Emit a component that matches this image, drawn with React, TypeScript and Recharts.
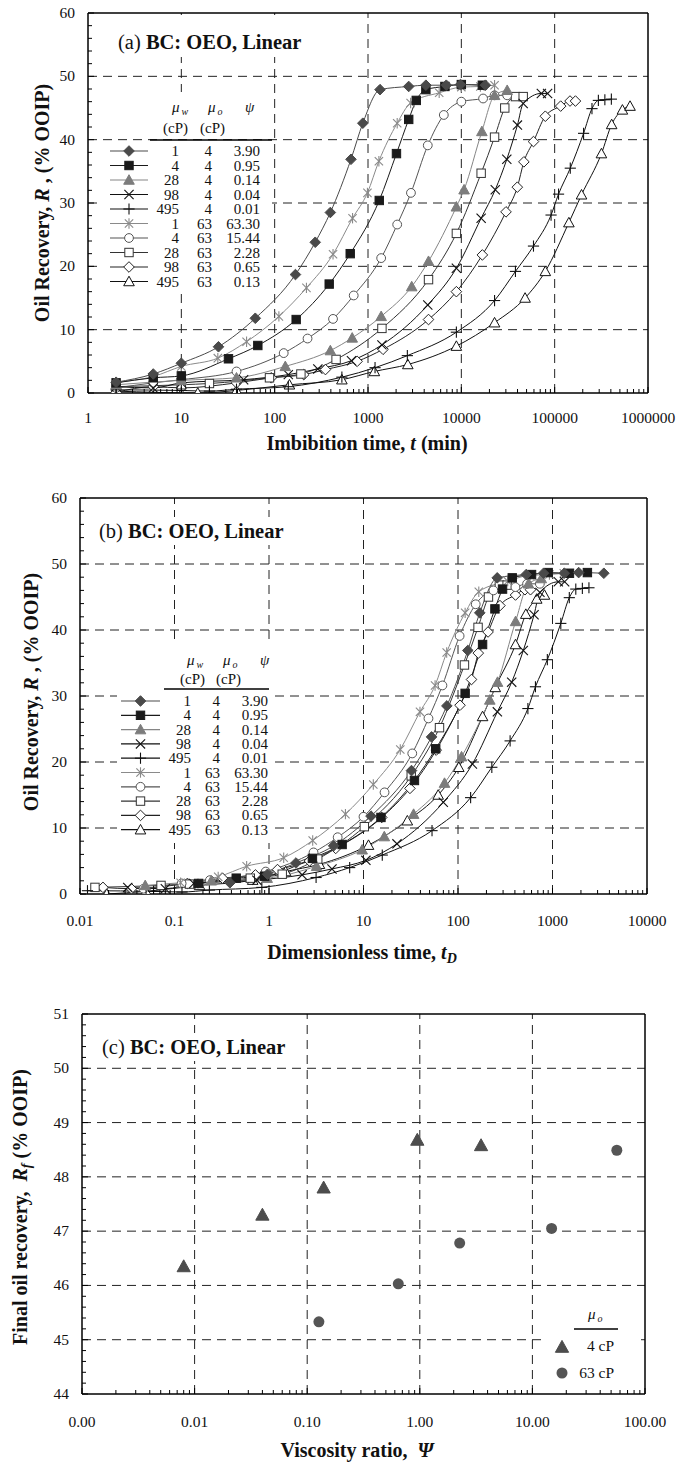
import React from 'react';
import { LineChart, Line, XAxis, YAxis, ReferenceLine, ScatterChart, Scatter } from 'recharts';

const FONT = '"Liberation Serif", "Times New Roman", Times, serif';

// ---------------- Panel (a): imbibition time t (min) ----------------
const tA1 = [2, 5, 10, 25, 62, 167, 272, 395, 657, 880, 1345, 2730, 4170, 6900, 9800, 18100];
const rA1 = [1.7, 3.0, 4.7, 7.3, 11.8, 18.7, 23.8, 28.5, 36.9, 42.6, 47.9, 48.4, 48.6, 48.6, 48.7, 48.6];
const tA2 = [2, 5, 10, 32, 66, 170, 384, 645, 1320, 2018, 2730, 3290, 4170, 6670, 10000, 16800];
const rA2 = [1.6, 2.4, 2.7, 5.4, 7.5, 11.6, 17.2, 22.0, 30.4, 37.8, 43.2, 46.2, 47.9, 48.4, 48.7, 48.6];
const tA3 = [2, 10, 39, 130, 395, 677, 1384, 2940, 4450, 8850, 10700, 16600, 22700, 31000];
const rA3 = [1.3, 2.0, 2.4, 4.2, 6.7, 8.7, 12.1, 16.8, 20.8, 29.4, 32.1, 41.3, 47.0, 47.8];
const tA4 = [2, 5, 10, 46.5, 140, 290, 665, 1410, 4370, 8850, 16300, 23100, 30700, 39900, 46000, 72000, 84000];
const rA4 = [1.0, 0.8, 1.6, 2.1, 2.9, 3.8, 5.1, 7.6, 13.9, 19.7, 27.6, 32.1, 36.9, 42.3, 45.7, 47.3, 47.3];
const tA5 = [2, 10, 20, 39, 140, 525, 1190, 2640, 8850, 22700, 38000, 59300, 91500, 110000, 147000, 204000, 251000, 294000, 345000, 405000];
const rA5 = [0.5, 0.4, 0.3, 0.6, 1.0, 2.5, 4.0, 5.9, 9.6, 14.6, 19.2, 23.2, 28.1, 31.4, 35.5, 41.0, 44.9, 46.2, 46.3, 46.4];
const tA6 = [2, 5, 10, 24.6, 50, 111, 219, 422, 683, 986, 1308, 2055, 2860, 5790, 10000, 16000, 22700];
const rA6 = [1.7, 2.6, 4.2, 5.5, 8.1, 12.1, 16.6, 21.9, 27.6, 31.6, 36.6, 42.6, 45.8, 47.4, 48.3, 48.4, 48.6];
const tA7 = [2, 5, 10, 39, 125, 225, 422, 703, 1384, 2055, 2885, 4370, 6490, 10000, 17100, 22700, 31000];
const rA7 = [0.8, 1.6, 2.1, 3.4, 6.3, 8.6, 11.7, 15.4, 21.3, 26.6, 31.6, 39.1, 43.9, 46.0, 46.5, 47.0, 47.0];
const tA8 = [2, 10, 20, 88, 191, 455, 1410, 4450, 8850, 16300, 22700, 29200, 38000, 46000];
const rA8 = [1.0, 1.3, 1.5, 2.4, 3.0, 5.3, 10.2, 17.9, 25.2, 34.7, 40.4, 45.0, 46.8, 46.8];
const tA9 = [2, 5, 10, 39, 92, 205, 350, 765, 1450, 4450, 8850, 16800, 30100, 39800, 46800, 59300, 79400, 116000, 146000, 167000];
const rA9 = [0.1, 1.0, 0.8, 1.6, 2.4, 2.9, 3.7, 5.0, 6.9, 11.6, 16.0, 21.8, 28.6, 32.5, 36.5, 39.7, 43.7, 45.3, 46.1, 46.1];
const tA10 = [2, 15, 39, 144, 525, 1170, 2670, 8850, 22700, 48200, 79400, 142000, 194000, 317000, 408000, 532000, 642000];
const rA10 = [0.3, 0.0, 0.4, 1.3, 2.1, 3.4, 4.5, 7.4, 11.1, 15.0, 19.2, 26.9, 31.3, 37.8, 42.4, 44.7, 45.3];

// ---------------- Panel (b): dimensionless time tD ----------------
const tdB1 = [0.386, 0.965, 1.93, 4.83, 12.0, 32.2, 52.5, 76.2, 127, 170, 260, 527, 805, 1332, 1891, 3493];
const rB1 = [1.7, 3.0, 4.7, 7.3, 11.8, 18.7, 23.8, 28.5, 36.9, 42.6, 47.9, 48.4, 48.6, 48.6, 48.7, 48.6];
const tdB2 = [0.18, 0.45, 0.9, 2.88, 5.94, 15.3, 34.6, 58.1, 119, 182, 246, 296, 375, 600, 900, 1512, 2340];
const rB2 = [1.6, 2.4, 2.7, 5.4, 7.5, 11.6, 17.2, 22.0, 30.4, 37.8, 43.2, 46.2, 47.9, 48.4, 48.7, 48.6, 48.7];
const tdB3 = [0.049, 0.245, 0.956, 3.19, 9.68, 16.6, 33.9, 72.0, 109, 217, 262, 407, 556, 760];
const rB3 = [1.3, 2.0, 2.4, 4.2, 6.7, 8.7, 12.1, 16.8, 20.8, 29.4, 32.1, 41.3, 47.0, 47.8];
const tdB4 = [0.032, 0.08, 0.16, 0.744, 2.24, 4.64, 10.6, 22.6, 69.9, 142, 261, 370, 491, 638, 736, 1152, 1344];
const rB4 = [1.0, 0.8, 1.6, 2.1, 2.9, 3.8, 5.1, 7.6, 13.9, 19.7, 27.6, 32.1, 36.9, 42.3, 45.7, 47.3, 47.3];
const tdB5 = [0.012, 0.06, 0.12, 0.234, 0.84, 3.15, 7.14, 15.8, 53.1, 136, 228, 356, 549, 660, 882, 1224, 1506, 1764, 2070, 2430];
const rB5 = [0.5, 0.4, 0.3, 0.6, 1.0, 2.5, 4.0, 5.9, 9.6, 14.6, 19.2, 23.2, 28.1, 31.4, 35.5, 41.0, 44.9, 46.2, 46.3, 46.4];
const tdB6 = [0.116, 0.29, 0.58, 1.43, 2.9, 6.44, 12.7, 24.5, 39.6, 57.2, 75.9, 119, 166, 336, 580, 928, 1317];
const rB6 = [1.7, 2.6, 4.2, 5.5, 8.1, 12.1, 16.6, 21.9, 27.6, 31.6, 36.6, 42.6, 45.8, 47.4, 48.3, 48.4, 48.6];
const tdB7 = [0.047, 0.119, 0.237, 0.924, 2.96, 5.33, 10.0, 16.7, 32.8, 48.7, 68.4, 104, 154, 237, 405, 538, 735];
const rB7 = [0.8, 1.6, 2.1, 3.4, 6.3, 8.6, 11.7, 15.4, 21.3, 26.6, 31.6, 39.1, 43.9, 46.0, 46.5, 47.0, 47.0];
const tdB8 = [0.0144, 0.072, 0.144, 0.634, 1.38, 3.28, 10.2, 32.0, 63.7, 117, 163, 210, 274, 331];
const rB8 = [1.0, 1.3, 1.5, 2.4, 3.0, 5.3, 10.2, 17.9, 25.2, 34.7, 40.4, 45.0, 46.8, 46.8];
const tdB9 = [0.0175, 0.035, 0.137, 0.322, 0.718, 1.23, 2.68, 5.08, 15.6, 31.0, 58.8, 105, 139, 164, 208, 278, 406, 511, 585];
const rB9 = [1.0, 0.8, 1.6, 2.4, 2.9, 3.7, 5.0, 6.9, 11.6, 16.0, 21.8, 28.6, 32.5, 36.5, 39.7, 43.7, 45.3, 46.1, 46.1];
const tdB10 = [0.0192, 0.05, 0.184, 0.672, 1.5, 3.42, 11.3, 29.1, 61.7, 102, 182, 248, 406, 522, 681, 822];
const rB10 = [0.0, 0.4, 1.3, 2.1, 3.4, 4.5, 7.4, 11.1, 15.0, 19.2, 26.9, 31.3, 37.8, 42.4, 44.7, 45.3];

// ---------------- Panel (c): final recovery vs viscosity ratio ----------------
const psi4 = [0.008, 0.04, 0.14, 0.95, 3.5];
const rf4 = [46.35, 47.3, 47.8, 48.68, 48.58];
const psi63 = [0.127, 0.644, 2.26, 14.8, 56.2];
const rf63 = [45.33, 46.03, 46.78, 47.05, 48.49];

// ---------------- legend table ----------------
const muW = [1, 4, 28, 98, 495, 1, 4, 28, 98, 495];
const muO = [4, 4, 4, 4, 4, 63, 63, 63, 63, 63];
const psiLabels = ['3.90', '0.95', '0.14', '0.04', '0.01', '63.30', '15.44', '2.28', '0.65', '0.13'];

// ---------------- axis ticks ----------------
const xMajorsA = [1, 10, 100, 1000, 10000, 100000, 1000000];
const xMajorsB = [0.01, 0.1, 1, 10, 100, 1000, 10000];
const xMajorsC = [0.001, 0.01, 0.1, 1, 10, 100];
const yMajorsAB = [0, 10, 20, 30, 40, 50, 60];
const yMajorsC = [44, 45, 46, 47, 48, 49, 50, 51];

const logTicks = (majors: number[]) => {
  const out: number[] = [];
  for (let i = 0; i < majors.length; i++) {
    out.push(majors[i]);
    if (i < majors.length - 1) for (let k = 2; k <= 9; k++) out.push(+(majors[i] * k).toPrecision(6));
  }
  return out;
};
const linTicks = (majors: number[], sub: number) => {
  const out: number[] = [];
  for (let i = 0; i < majors.length; i++) {
    out.push(majors[i]);
    if (i < majors.length - 1) {
      const step = (majors[i + 1] - majors[i]) / sub;
      for (let k = 1; k < sub; k++) out.push(Math.round((majors[i] + k * step) * 1000) / 1000);
    }
  }
  return out;
};

type Style = { shape: string; filled: boolean; color: string; line: string };
const styles: Style[] = [
  { shape: 'diamond', filled: true, color: '#4a4a4a', line: '#4a4a4a' },
  { shape: 'square', filled: true, color: '#1a1a1a', line: '#1a1a1a' },
  { shape: 'triangle', filled: true, color: '#7c7c7c', line: '#858585' },
  { shape: 'x', filled: false, color: '#111', line: '#111' },
  { shape: 'plus', filled: false, color: '#111', line: '#111' },
  { shape: 'asterisk', filled: false, color: '#8a8a8a', line: '#8a8a8a' },
  { shape: 'circle', filled: false, color: '#555', line: '#555' },
  { shape: 'square', filled: false, color: '#333', line: '#333' },
  { shape: 'diamond', filled: false, color: '#222', line: '#222' },
  { shape: 'triangle', filled: false, color: '#111', line: '#111' },
];

function Marker({ shape, cx, cy, color, filled, s = 1 }: any) {
  if (cx == null || cy == null || isNaN(cx) || isNaN(cy)) return null;
  const fill = filled ? color : '#fff';
  const sw = 1;
  switch (shape) {
    case 'diamond': {
      const r = 5.3 * s;
      return <polygon points={`${cx},${cy - r} ${cx + r},${cy} ${cx},${cy + r} ${cx - r},${cy}`} fill={fill} stroke={color} strokeWidth={sw} />;
    }
    case 'square': {
      const h = 4.2 * s;
      return <rect x={cx - h} y={cy - h} width={2 * h} height={2 * h} fill={fill} stroke={color} strokeWidth={sw} />;
    }
    case 'triangle': {
      const r = 5.3 * s;
      return <polygon points={`${cx},${cy - r} ${cx + r},${cy + r * 0.8} ${cx - r},${cy + r * 0.8}`} fill={fill} stroke={color} strokeWidth={sw} />;
    }
    case 'x': {
      const r = 4.6 * s;
      return (
        <g stroke={color} strokeWidth={1.1}>
          <line x1={cx - r} y1={cy - r} x2={cx + r} y2={cy + r} />
          <line x1={cx - r} y1={cy + r} x2={cx + r} y2={cy - r} />
        </g>
      );
    }
    case 'plus': {
      const r = 5.6 * s;
      return (
        <g stroke={color} strokeWidth={1.1}>
          <line x1={cx - r} y1={cy} x2={cx + r} y2={cy} />
          <line x1={cx} y1={cy - r} x2={cx} y2={cy + r} />
        </g>
      );
    }
    case 'asterisk': {
      const r = 5.2 * s;
      const d = r * 0.8;
      return (
        <g stroke={color} strokeWidth={1.1}>
          <line x1={cx} y1={cy - r} x2={cx} y2={cy + r} />
          <line x1={cx - d} y1={cy - d} x2={cx + d} y2={cy + d} />
          <line x1={cx - d} y1={cy + d} x2={cx + d} y2={cy - d} />
        </g>
      );
    }
    case 'circle':
    default:
      return <circle cx={cx} cy={cy} r={4.4 * s} fill={fill} stroke={color} strokeWidth={sw} />;
  }
}

const isDecade = (v: number) => {
  const l = Math.log10(v);
  return Math.abs(l - Math.round(l)) < 1e-6;
};

const TICK_FS = 15.5;

function makeLogXTick(fmt: (v: number) => string, labelOffset: number) {
  return (props: any) => {
    const { x, y, payload } = props;
    const v = Number(payload.value);
    const major = isDecade(v);
    return (
      <g>
        <line x1={x} x2={x} y1={y} y2={y - (major ? 6 : 4)} stroke="#000" strokeWidth={1} />
        {major ? (
          <text x={x} y={y + labelOffset} textAnchor="middle" fontSize={TICK_FS} fontFamily={FONT} fill="#111">
            {fmt(v)}
          </text>
        ) : null}
      </g>
    );
  };
}
function makeYTick(isMajor: (v: number) => boolean, gap: number) {
  return (props: any) => {
    const { x, y, payload } = props;
    const v = Number(payload.value);
    const major = isMajor(v);
    return (
      <g>
        <line x1={x} x2={x + (major ? 6 : 4)} y1={y} y2={y} stroke="#000" strokeWidth={1} />
        {major ? (
          <text x={x - gap} y={y + 5} textAnchor="end" fontSize={TICK_FS} fontFamily={FONT} fill="#111">
            {String(Math.round(v))}
          </text>
        ) : null}
      </g>
    );
  };
}

const rows = (xs: number[], ys: number[]) => xs.map((x, i) => ({ x, R: ys[i] }));
const seriesA = [rows(tA1, rA1), rows(tA2, rA2), rows(tA3, rA3), rows(tA4, rA4), rows(tA5, rA5), rows(tA6, rA6), rows(tA7, rA7), rows(tA8, rA8), rows(tA9, rA9), rows(tA10, rA10)];
const seriesB = [rows(tdB1, rB1), rows(tdB2, rB2), rows(tdB3, rB3), rows(tdB4, rB4), rows(tdB5, rB5), rows(tdB6, rB6), rows(tdB7, rB7), rows(tdB8, rB8), rows(tdB9, rB9), rows(tdB10, rB10)];
const rowsC4 = psi4.map((x, i) => ({ x, y: rf4[i] }));
const rowsC63 = psi63.map((x, i) => ({ x, y: rf63[i] }));

const GRID = { stroke: '#222', strokeWidth: 1, strokeDasharray: '9 6' };
const FRAME = { stroke: '#000', strokeWidth: 1.5 };

function renderLines(series: any[], prefix: string) {
  const order = [9, 8, 7, 6, 5, 4, 3, 2, 1, 0];
  return order.map((i) => (
    <Line
      key={prefix + i}
      data={series[i]}
      dataKey="R"
      type="monotone"
      stroke={styles[i].line}
      strokeWidth={1}
      isAnimationActive={false}
      activeDot={false}
      legendType="none"
      dot={(p: any) => <Marker key={`${prefix}${i}-${p.index}`} cx={p.cx} cy={p.cy} shape={styles[i].shape} color={styles[i].color} filled={styles[i].filled} />}
    />
  ));
}

function CurvePanel({ series, prefix, majorsX, domainX, fmtX, yAxisWidth, marginTop, marginRight, height, xAxisHeight, labelOffset }: any) {
  const xTicks = logTicks(majorsX);
  const yTicks = linTicks(yMajorsAB, 5);
  const innerX = majorsX.slice(1, -1);
  return (
    <LineChart width={678} height={height} margin={{ top: marginTop, right: marginRight, left: 0, bottom: 0 }}>
      <XAxis
        dataKey="x"
        type="number"
        scale="log"
        domain={domainX}
        allowDataOverflow
        ticks={xTicks}
        interval={0}
        height={xAxisHeight}
        axisLine={FRAME}
        tickLine={false}
        tickSize={0}
        tickMargin={0}
        tick={makeLogXTick(fmtX, labelOffset)}
      />
      <YAxis
        type="number"
        domain={[0, 60]}
        allowDataOverflow
        ticks={yTicks}
        interval={0}
        width={yAxisWidth}
        axisLine={FRAME}
        tickLine={false}
        tickSize={0}
        tickMargin={0}
        tick={makeYTick((v) => v % 10 === 0, 13)}
      />
      {innerX.map((v: number) => (
        <ReferenceLine key={'gx' + v} x={v} {...GRID} />
      ))}
      {[10, 20, 30, 40, 50].map((v) => (
        <ReferenceLine key={'gy' + v} y={v} {...GRID} />
      ))}
      <ReferenceLine y={60} {...FRAME} />
      <ReferenceLine x={domainX[1]} {...FRAME} />
      {renderLines(series, prefix)}
    </LineChart>
  );
}

function LegendTable({ rowY0, dy, symX1, symX2, colW, colO, colP, hdr, bgs }: any) {
  return (
    <g fontFamily={FONT} fontSize={15} fill="#111">
      {bgs.map((b: number[], i: number) => (
        <rect key={'bg' + i} x={b[0]} y={b[1]} width={b[2]} height={b[3]} fill="#fff" />
      ))}
      <text x={hdr.wX} y={hdr.muY} fontStyle="italic">
        μ<tspan fontSize={10} dx={2} dy={3}>w</tspan>
      </text>
      <text x={hdr.oX} y={hdr.muY} fontStyle="italic">
        μ<tspan fontSize={10} dx={2} dy={3}>o</tspan>
      </text>
      <text x={hdr.pX} y={hdr.muY} fontStyle="italic">ψ</text>
      <text x={hdr.cp1} y={hdr.cpY}>(cP)</text>
      <text x={hdr.cp2} y={hdr.cpY}>(cP)</text>
      <line x1={hdr.lx1} x2={hdr.lx2} y1={hdr.ly} y2={hdr.ly} stroke="#000" strokeWidth={1.3} />
      {muW.map((w, i) => {
        const y = rowY0 + i * dy;
        const st = styles[i];
        return (
          <g key={'row' + i}>
            <line x1={symX1} x2={symX2} y1={y} y2={y} stroke={st.line} strokeWidth={1.2} />
            <Marker cx={(symX1 + symX2) / 2} cy={y} shape={st.shape} color={st.color} filled={st.filled} />
            <text x={colW} y={y + 5} textAnchor="end">{w}</text>
            <text x={colO} y={y + 5} textAnchor="end">{muO[i]}</text>
            <text x={colP} y={y + 5} textAnchor="end">{psiLabels[i]}</text>
          </g>
        );
      })}
    </g>
  );
}

const TITLE_FS = 20;
const PANEL_FS = 20.5;

function Overlay() {
  return (
    <svg width={678} height={1479} style={{ position: 'absolute', left: 0, top: 0, zIndex: 5, pointerEvents: 'none' }}>
      {/* Panel (a) */}
      <rect x={95} y={15} width={214} height={42} fill="#fff" />
      <text x={118} y={49} fontFamily={FONT} fontSize={PANEL_FS} fill="#111">
        (a) <tspan fontWeight="bold">BC: OEO, Linear</tspan>
      </text>
      <LegendTable
        rowY0={151}
        dy={14.5}
        symX1={110}
        symX2={148}
        colW={179}
        colO={212}
        colP={260}
        hdr={{ wX: 172, oX: 208, pX: 245, muY: 112, cp1: 163, cp2: 200, cpY: 133, lx1: 150, lx2: 272, ly: 140 }}
        bgs={[[150, 92, 122, 47], [100, 141, 172, 151]]}
      />
      <text x={367} y={450} textAnchor="middle" fontFamily={FONT} fontSize={TITLE_FS} fontWeight="bold" fill="#111">
        Imbibition time, <tspan fontStyle="italic">t</tspan> (min)
      </text>
      <text transform="rotate(-90)" x={-203} y={49} textAnchor="middle" fontFamily={FONT} fontSize={TITLE_FS} fontWeight="bold" fill="#111">
        Oil Recovery, <tspan fontStyle="italic">R</tspan> , (% OOIP)
      </text>

      {/* Panel (b) */}
      <rect x={95} y={517} width={200} height={28} fill="#fff" />
      <text x={99} y={538} fontFamily={FONT} fontSize={PANEL_FS} fill="#111">
        (b) <tspan fontWeight="bold">BC: OEO, Linear</tspan>
      </text>
      <LegendTable
        rowY0={701}
        dy={14.3}
        symX1={121}
        symX2={160}
        colW={191}
        colO={220}
        colP={268}
        hdr={{ wX: 187, oX: 223, pX: 260, muY: 665, cp1: 180, cp2: 216, cpY: 684, lx1: 164, lx2: 269, ly: 689 }}
        bgs={[[164, 643, 106, 45], [117, 690, 155, 153]]}
      />
      <text x={362} y={959} textAnchor="middle" fontFamily={FONT} fontSize={TITLE_FS} fontWeight="bold" fill="#111">
        Dimensionless time, <tspan fontStyle="italic">t</tspan>
        <tspan fontStyle="italic" fontSize={14} dy={4}>D</tspan>
      </text>
      <text transform="rotate(-90)" x={-692} y={38} textAnchor="middle" fontFamily={FONT} fontSize={TITLE_FS} fontWeight="bold" fill="#111">
        Oil Recovery, <tspan fontStyle="italic">R</tspan> , (% OOIP)
      </text>

      {/* Panel (c) */}
      <rect x={98} y={1033} width={200} height={28} fill="#fff" />
      <text x={102} y={1054} fontFamily={FONT} fontSize={PANEL_FS} fill="#111">
        (c) <tspan fontWeight="bold">BC: OEO, Linear</tspan>
      </text>
      <rect x={545} y={1302} width={96} height={84} fill="#fff" />
      <text x={588} y={1319} fontFamily={FONT} fontSize={15} fontStyle="italic" fill="#111">
        μ<tspan fontSize={10} dx={2} dy={3}>o</tspan>
      </text>
      <line x1={574} x2={618} y1={1329} y2={1329} stroke="#000" strokeWidth={1.3} />
      <Marker cx={562} cy={1347} shape="triangle" color="#4d4d4d" filled s={1.25} />
      <text x={614} y={1351} textAnchor="end" fontFamily={FONT} fontSize={15.5} fill="#111">4 cP</text>
      <circle cx={562} cy={1373} r={5.5} fill="#555" />
      <text x={614} y={1378} textAnchor="end" fontFamily={FONT} fontSize={15.5} fill="#111">63 cP</text>
      <text x={357} y={1457} textAnchor="middle" fontFamily={FONT} fontSize={TITLE_FS} fontWeight="bold" fill="#111">
        Viscosity ratio,{'\u00a0\u00a0'}<tspan fontStyle="italic">Ψ</tspan>
      </text>
      <text transform="rotate(-90)" x={-1207} y={27} textAnchor="middle" fontFamily={FONT} fontSize={TITLE_FS} fontWeight="bold" fill="#111">
        Final oil recovery,{'\u00a0\u00a0'}<tspan fontStyle="italic">R</tspan>
        <tspan fontStyle="italic" fontSize={14} dy={4}>f</tspan>
        <tspan dy={-4}> (% OOIP)</tspan>
      </text>
    </svg>
  );
}

export default function App() {
  const xTicksC = logTicks(xMajorsC);
  const yTicksC = linTicks(yMajorsC, 5);
  return (
    <div style={{ position: 'absolute', left: 0, top: 0, width: 678, height: 1479, background: '#fff', overflow: 'hidden' }}>
      <div style={{ position: 'absolute', left: 0, top: 0 }}>
        <CurvePanel
          series={seriesA}
          prefix="a"
          majorsX={xMajorsA}
          domainX={[1, 1000000]}
          fmtX={(v: number) => String(v)}
          yAxisWidth={88}
          marginTop={13}
          marginRight={30}
          height={460}
          xAxisHeight={67}
          labelOffset={30}
        />
      </div>
      <div style={{ position: 'absolute', left: 0, top: 470 }}>
        <CurvePanel
          series={seriesB}
          prefix="b"
          majorsX={xMajorsB}
          domainX={[0.01, 10000]}
          fmtX={(v: number) => String(v)}
          yAxisWidth={80}
          marginTop={28}
          marginRight={31}
          height={484}
          xAxisHeight={60}
          labelOffset={32}
        />
      </div>
      <div style={{ position: 'absolute', left: 0, top: 980 }}>
        <ScatterChart width={678} height={474} margin={{ top: 34, right: 33, left: 0, bottom: 0 }}>
          <XAxis
            dataKey="x"
            type="number"
            scale="log"
            domain={[0.001, 100]}
            allowDataOverflow
            ticks={xTicksC}
            interval={0}
            height={60}
            axisLine={FRAME}
            tickLine={false}
            tickSize={0}
            tickMargin={0}
            tick={makeLogXTick((v: number) => v.toFixed(2), 33)}
          />
          <YAxis
            dataKey="y"
            type="number"
            domain={[44, 51]}
            allowDataOverflow
            ticks={yTicksC}
            interval={0}
            width={82}
            axisLine={FRAME}
            tickLine={false}
            tickSize={0}
            tickMargin={0}
            tick={makeYTick((v) => Math.abs(v - Math.round(v)) < 1e-6, 13)}
          />
          {[0.01, 0.1, 1, 10].map((v) => (
            <ReferenceLine key={'cgx' + v} x={v} {...GRID} />
          ))}
          {[45, 46, 47, 48, 49, 50].map((v) => (
            <ReferenceLine key={'cgy' + v} y={v} {...GRID} />
          ))}
          <ReferenceLine y={51} {...FRAME} />
          <ReferenceLine x={100} {...FRAME} />
          <Scatter
            data={rowsC4}
            isAnimationActive={false}
            legendType="none"
            shape={(p: any) => <Marker cx={p.cx} cy={p.cy} shape="triangle" color="#4d4d4d" filled s={1.25} />}
          />
          <Scatter
            data={rowsC63}
            isAnimationActive={false}
            legendType="none"
            shape={(p: any) => <circle cx={p.cx} cy={p.cy} r={5.5} fill="#555" />}
          />
        </ScatterChart>
      </div>
      <Overlay />
    </div>
  );
}
